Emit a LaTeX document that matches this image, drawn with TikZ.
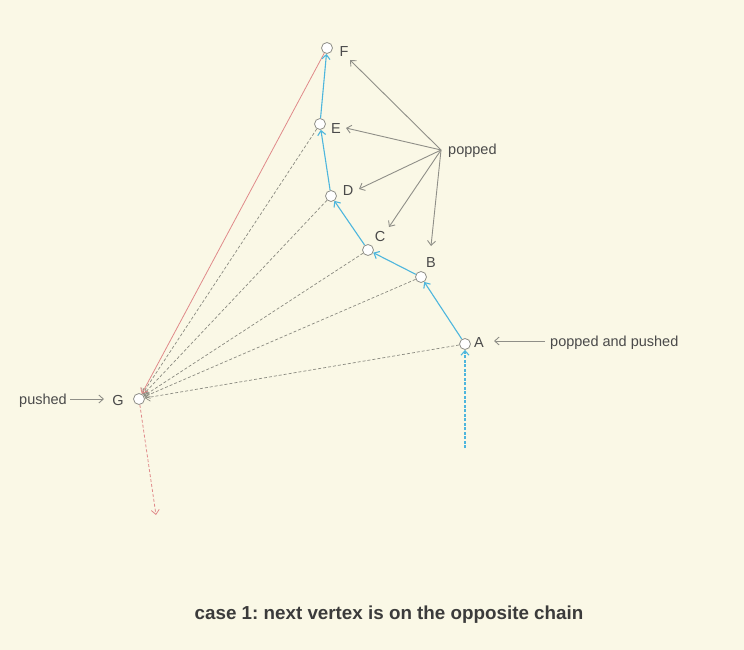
\documentclass[tikz,border=0pt]{standalone}
\usepackage{fontspec}
\setmainfont{Liberation Sans}
\usetikzlibrary{arrows.meta}
\definecolor{bg}{HTML}{FAF8E6}
\definecolor{chainblue}{HTML}{4DB6DD}
\definecolor{edgered}{HTML}{E08A8A}
\definecolor{dgray}{HTML}{8A8A80}
\definecolor{agray}{HTML}{8F8F88}
\definecolor{tgray}{HTML}{4A4A4A}
\tikzset{
  vert/.style={circle,draw=agray,fill=white,line width=0.8pt,minimum size=11pt,inner sep=0pt},
  lbl/.style={text=tgray,font=\fontsize{14.5}{17}\selectfont,inner sep=1pt},
  tip/.style={-{Straight Barb[length=4.5pt,width=8pt]}},
  chain/.style={tip,draw=chainblue,line width=1.1pt},
  diag/.style={tip,draw=dgray,dashed,dash pattern=on 3pt off 2pt,line width=0.7pt},
  pointer/.style={tip,draw=agray,line width=0.9pt},
}
\begin{document}
\frenchspacing
\begin{tikzpicture}[x=1pt,y=-1pt]
\fill[bg] (0,0) rectangle (744,650);
\useasboundingbox (0,0) rectangle (744,650);
\node[vert] (F) at (327,48) {};
\node[vert] (E) at (320,124) {};
\node[vert] (D) at (331,196) {};
\node[vert] (C) at (368,250) {};
\node[vert] (B) at (421,277) {};
\node[vert] (A) at (465,344) {};
\node[vert] (G) at (139,399) {};
\node[lbl] (lF) at (344,52) {F};
\node[lbl] (lE) at (336,129) {E};
\node[lbl] (lD) at (348,191) {D};
\node[lbl] (lC) at (380,237) {C};
\node[lbl] (lB) at (431,263) {B};
\node[lbl] (lA) at (479,343) {A};
\node[lbl] (lG) at (118,401) {G};
\node[lbl,anchor=west] (popped) at (447,151) {popped};
\coordinate (pp) at (441,150);
\node[lbl,anchor=west] (pap) at (549,343) {popped and pushed};
\node[lbl,anchor=east] (pushed) at (68,401) {pushed};
\coordinate (pushEnd) at (104,399);
\coordinate (papEnd) at (494,341);
\coordinate (aStart) at (465,448);
\coordinate (gEnd) at (156,515);
\coordinate (tF) at (350,60);
\coordinate (tE) at (346,128);
\coordinate (tD) at (359,189);
\coordinate (tC) at (389,227);
\coordinate (tB) at (431,246);
% diagonals to G
\foreach \v in {A,B,C,D,E} { \draw[diag] (\v) -- (G); }
\draw[tip,draw=edgered,line width=0.8pt] (F) -- (G);
\draw[tip,draw=edgered,dashed,dash pattern=on 3pt off 2pt,line width=0.8pt] (G) -- (gEnd);
% chain
\draw[chain,dash pattern=on 3pt off 1.5pt] (aStart) -- (A);
\draw[chain] (A) -- (B);
\draw[chain] (B) -- (C);
\draw[chain] (C) -- (D);
\draw[chain] (D) -- (E);
\draw[chain] (E) -- (F);
% pointers
\foreach \t in {tF,tE,tD,tC,tB} { \draw[pointer] (pp) -- (\t); }
\draw[pointer] (545,341) -- (papEnd);
\draw[pointer] (70,399) -- (pushEnd);
\node[text=tgray!80!black,font=\bfseries\fontsize{18.8}{22}\selectfont] (title) at (389,615) {case 1: next vertex is on the opposite chain};
\end{tikzpicture}
\end{document}
